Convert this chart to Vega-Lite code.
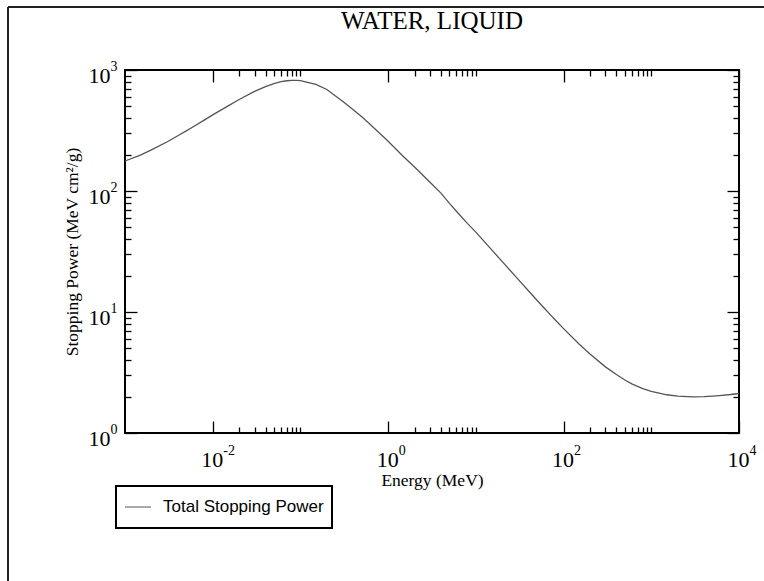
{
  "$schema": "https://vega.github.io/schema/vega-lite/v6.json",
  "width": 614,
  "height": 363,
  "autosize": {"type": "none"},
  "padding": {"left": 125, "top": 70, "right": 25, "bottom": 148},
  "background": "white",
  "title": {"text": "WATER, LIQUID", "font": "Liberation Serif", "fontSize": 25, "fontWeight": "normal", "color": "black", "anchor": "middle", "baseline": "alphabetic", "offset": -48},
  "config": {"view": {"stroke": "black", "strokeWidth": 2}},
  "data": {"values": [
    {"energy": 0.001, "stopping": 177},
    {"energy": 0.0015, "stopping": 198},
    {"energy": 0.002, "stopping": 219},
    {"energy": 0.003, "stopping": 254},
    {"energy": 0.004, "stopping": 286},
    {"energy": 0.005, "stopping": 314},
    {"energy": 0.006, "stopping": 340},
    {"energy": 0.008, "stopping": 385},
    {"energy": 0.01, "stopping": 426},
    {"energy": 0.015, "stopping": 505},
    {"energy": 0.02, "stopping": 570},
    {"energy": 0.03, "stopping": 665},
    {"energy": 0.04, "stopping": 730},
    {"energy": 0.05, "stopping": 772},
    {"energy": 0.06, "stopping": 800},
    {"energy": 0.07, "stopping": 815},
    {"energy": 0.08, "stopping": 820},
    {"energy": 0.09, "stopping": 820},
    {"energy": 0.1, "stopping": 817},
    {"energy": 0.15, "stopping": 760},
    {"energy": 0.2, "stopping": 690},
    {"energy": 0.3, "stopping": 555},
    {"energy": 0.4, "stopping": 470},
    {"energy": 0.5, "stopping": 410},
    {"energy": 0.6, "stopping": 365},
    {"energy": 0.8, "stopping": 300},
    {"energy": 1, "stopping": 258},
    {"energy": 1.5, "stopping": 192},
    {"energy": 2, "stopping": 158},
    {"energy": 3, "stopping": 118},
    {"energy": 4, "stopping": 96},
    {"energy": 5, "stopping": 79},
    {"energy": 6, "stopping": 68},
    {"energy": 8, "stopping": 54},
    {"energy": 10, "stopping": 45.7},
    {"energy": 15, "stopping": 32.9},
    {"energy": 20, "stopping": 26.1},
    {"energy": 30, "stopping": 18.8},
    {"energy": 40, "stopping": 14.9},
    {"energy": 50, "stopping": 12.45},
    {"energy": 60, "stopping": 10.78},
    {"energy": 70, "stopping": 9.56},
    {"energy": 80, "stopping": 8.62},
    {"energy": 100, "stopping": 7.29},
    {"energy": 150, "stopping": 5.44},
    {"energy": 200, "stopping": 4.49},
    {"energy": 300, "stopping": 3.52},
    {"energy": 400, "stopping": 3.04},
    {"energy": 500, "stopping": 2.74},
    {"energy": 600, "stopping": 2.55},
    {"energy": 800, "stopping": 2.33},
    {"energy": 1000, "stopping": 2.21},
    {"energy": 1500, "stopping": 2.07},
    {"energy": 2000, "stopping": 2.02},
    {"energy": 3000, "stopping": 1.99},
    {"energy": 4000, "stopping": 2.0},
    {"energy": 5000, "stopping": 2.02},
    {"energy": 6000, "stopping": 2.04},
    {"energy": 8000, "stopping": 2.08},
    {"energy": 10000, "stopping": 2.12}
  ]},
  "layer": [
    {
      "mark": {"type": "line", "strokeWidth": 1.3},
      "encoding": {
        "x": {"field": "energy", "type": "quantitative",
          "scale": {"type": "log", "domain": [0.001, 10000]},
          "axis": {"orient": "bottom", "title": null, "labels": false, "domain": false, "grid": false,
            "values": [0.01,0.02,0.03,0.04,0.05,0.06,0.07,0.08,0.09,0.1,1,2,3,4,5,6,7,8,9,10,100,200,300,400,500,600,700,800,900,1000,10000],
            "tickSize": {"condition": {"test": "indexof([0.01,1,100,10000], datum.value) >= 0", "value": -12}, "value": -6},
            "tickColor": "black", "tickWidth": 1.3}},
        "y": {"field": "stopping", "type": "quantitative",
          "scale": {"type": "log", "domain": [1, 1000]},
          "axis": {"orient": "left", "title": null, "labels": false, "domain": false, "grid": false,
            "values": [1,2,3,4,5,6,7,8,9,10,20,30,40,50,60,70,80,90,100,200,300,400,500,600,700,800,900,1000],
            "tickSize": {"condition": {"test": "indexof([1,10,100,1000], datum.value) >= 0", "value": -12}, "value": -6},
            "tickColor": "black", "tickWidth": 1.3}},
        "color": {"datum": "Total Stopping Power", "type": "nominal", "scale": {"range": ["#555555"]},
          "legend": {"orient": "none", "legendX": -9, "legendY": 416, "title": null,
            "symbolType": "stroke", "symbolSize": 676, "symbolStrokeWidth": 1.2,
            "labelFont": "Liberation Sans", "labelFontSize": 17, "labelColor": "black", "labelOffset": 11, "labelLimit": 400,
            "padding": 8, "clipHeight": 26, "strokeColor": "black",
            "encode": {"legend": {"update": {"strokeWidth": {"value": 2}}}}}}
      }
    },
    {
      "mark": {"type": "line", "strokeOpacity": 0},
      "encoding": {
        "x": {"field": "energy", "type": "quantitative",
          "axis": {"orient": "top", "title": null, "labels": false, "domain": false, "grid": false,
            "values": [0.01,0.02,0.03,0.04,0.05,0.06,0.07,0.08,0.09,0.1,1,2,3,4,5,6,7,8,9,10,100,200,300,400,500,600,700,800,900,1000,10000],
            "tickSize": {"condition": {"test": "indexof([0.01,1,100,10000], datum.value) >= 0", "value": -12}, "value": -6},
            "tickColor": "black", "tickWidth": 1.3}},
        "y": {"field": "stopping", "type": "quantitative",
          "axis": {"orient": "right", "title": null, "labels": false, "domain": false, "grid": false,
            "values": [1,2,3,4,5,6,7,8,9,10,20,30,40,50,60,70,80,90,100,200,300,400,500,600,700,800,900,1000],
            "tickSize": {"condition": {"test": "indexof([1,10,100,1000], datum.value) >= 0", "value": -12}, "value": -6},
            "tickColor": "black", "tickWidth": 1.3}}
      }
    },
    {
      "mark": {"type": "line", "strokeOpacity": 0},
      "encoding": {
        "x": {"field": "energy", "type": "quantitative",
          "axis": {"orient": "bottom", "title": "Energy (MeV)", "domain": false, "grid": false,
            "values": [0.01, 1, 100, 10000], "tickSize": -12, "tickOpacity": 0,
            "labelExpr": "'10'", "labelFont": "Liberation Serif", "labelFontSize": 22, "labelColor": "black",
            "labelPadding": 28, "labelOffset": -1, "labelOverlap": false, "labelFlush": false,
            "titleFont": "Liberation Serif", "titleFontSize": 17.5, "titleFontWeight": "normal", "titleColor": "black", "titlePadding": 1}},
        "y": {"field": "stopping", "type": "quantitative",
          "axis": {"orient": "left", "title": "Stopping Power (MeV cm²/g)", "domain": false, "grid": false,
            "values": [1, 10, 100, 1000], "tickSize": -12, "tickOpacity": 0,
            "labelExpr": "'10'", "labelFont": "Liberation Serif", "labelFontSize": 22, "labelColor": "black",
            "labelAlign": "right", "labelBaseline": "middle", "labelPadding": 27, "labelOffset": 5, "labelOverlap": false, "labelFlush": false,
            "titleFont": "Liberation Serif", "titleFontSize": 17.5, "titleFontWeight": "normal", "titleColor": "black", "titlePadding": 7}}
      }
    },
    {
      "mark": {"type": "line", "strokeOpacity": 0},
      "encoding": {
        "x": {"field": "energy", "type": "quantitative",
          "axis": {"orient": "bottom", "title": null, "domain": false, "grid": false,
            "values": [0.01, 1, 100, 10000], "tickSize": -12, "tickOpacity": 0,
            "labelExpr": "datum.value == 0.01 ? '-2' : datum.value == 1 ? '0' : datum.value == 100 ? '2' : '4'",
            "labelFont": "Liberation Serif", "labelFontSize": 14, "labelColor": "black",
            "labelAlign": "left", "labelPadding": 22, "labelOffset": 10, "labelOverlap": false, "labelFlush": false}},
        "y": {"field": "stopping", "type": "quantitative",
          "axis": {"orient": "left", "title": null, "domain": false, "grid": false,
            "values": [1, 10, 100, 1000], "tickSize": -12, "tickOpacity": 0,
            "labelExpr": "datum.value == 1 ? '0' : datum.value == 10 ? '1' : datum.value == 100 ? '2' : '3'",
            "labelFont": "Liberation Serif", "labelFontSize": 14, "labelColor": "black",
            "labelAlign": "left", "labelBaseline": "middle", "labelPadding": 27, "labelOffset": -4, "labelOverlap": false, "labelFlush": false}}
      }
    },
    {
      "data": {"values": [{}]},
      "mark": {"type": "rule", "color": "#222222", "strokeWidth": 2},
      "encoding": {
        "x": {"datum": 4.636e-5, "type": "quantitative", "axis": null},
        "y": {"datum": 3317, "type": "quantitative", "axis": null},
        "y2": {"datum": 0.04}
      }
    },
    {
      "data": {"values": [{}]},
      "mark": {"type": "rule", "color": "#222222", "strokeWidth": 2},
      "encoding": {
        "x": {"datum": 4.636e-5, "type": "quantitative", "axis": null},
        "x2": {"datum": 50000},
        "y": {"datum": 3317, "type": "quantitative", "axis": null}
      }
    }
  ],
  "resolve": {"axis": {"x": "independent", "y": "independent"}}
}
